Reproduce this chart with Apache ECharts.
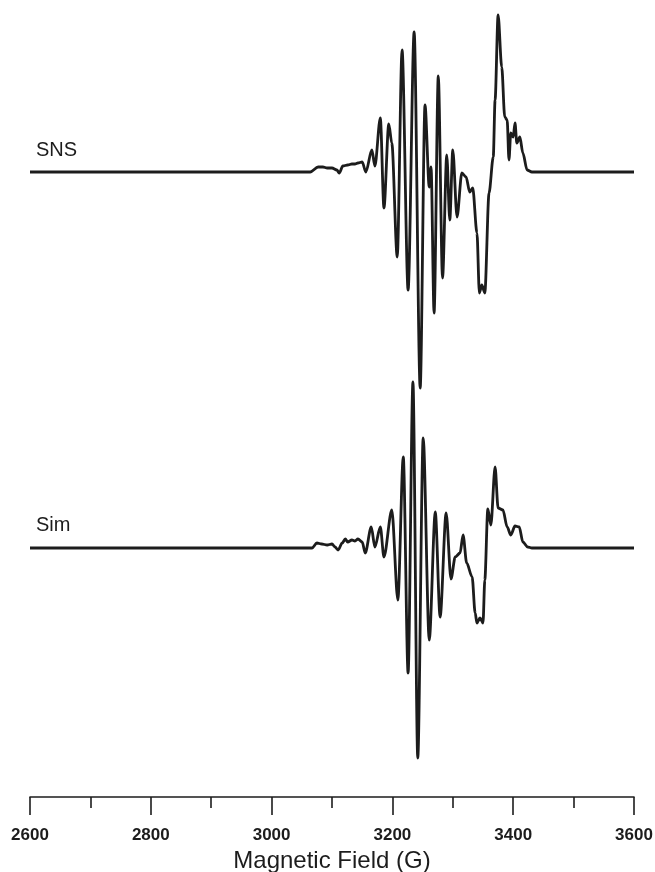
<!DOCTYPE html>
<html><head><meta charset="utf-8">
<script src="https://cdn.jsdelivr.net/npm/echarts@6/dist/echarts.min.js"></script>
<style>html,body{margin:0;padding:0;background:#fff}#c{width:655px;height:872px}</style>
</head><body><div id="c"></div>
<script>
// Magnetic field (G) and signal (arb. units)
const snsField = [2600, 3064, 3077, 3085, 3092, 3100, 3108, 3112, 3118, 3126, 3133, 3138, 3143, 3150, 3156, 3166, 3171, 3180, 3186, 3194, 3199, 3208, 3216, 3226, 3236, 3246, 3254, 3261, 3264, 3269, 3276, 3283, 3290, 3295, 3300, 3307, 3315, 3322, 3328, 3333, 3340, 3344, 3348, 3353, 3360, 3367, 3370, 3375, 3381, 3386, 3390, 3393, 3396, 3400, 3403, 3406, 3411, 3416, 3423, 3431, 3600];
const snsSignal = [0, 0, 5, 5, 4, 4, 2, -1, 6, 7, 8, 8, 9, 10, 0, 22, 6, 54, -36, 48, 29, -85, 122, -118, 140, -216, 67, -15, 5, -141, 96, -106, 17, -48, 22, -45, -1, -5, -20, -16, -61, -121, -113, -121, -21, 15, 72, 157, 105, 55, 52, 12, 39, 35, 49, 29, 35, 19, 2, 0, 0];

const simField = [2600, 3067, 3075, 3083, 3092, 3100, 3105, 3110, 3117, 3122, 3126, 3133, 3138, 3143, 3150, 3155, 3165, 3171, 3180, 3186, 3199, 3209, 3218, 3226, 3234, 3242, 3251, 3261, 3271, 3279, 3289, 3297, 3304, 3312, 3317, 3323, 3332, 3337, 3340, 3345, 3350, 3353, 3358, 3363, 3370, 3375, 3383, 3390, 3396, 3403, 3410, 3416, 3424, 3431, 3600];
const simSignal = [0, 0, 5, 4, 3, 4, 1, -2, 5, 9, 6, 8, 7, 9, 6, -5, 21, 1, 21, -9, 38, -52, 91, -125, 166, -210, 110, -92, 36, -69, 35, -31, -9, -5, 13, -15, -29, -65, -75, -70, -75, -32, 39, 23, 81, 40, 38, 21, 13, 22, 21, 6, 1, 0, 0];

const tickLabels = ['2600', '2800', '3000', '3200', '3400', '3600'];
const seriesNames = ['SNS', 'Sim'];
const axisTitle = 'Magnetic Field (G)';

const zip = (xs, ys) => xs.map((x, i) => [x, ys[i]]);
const chart = echarts.init(document.getElementById('c'), null, {renderer: 'canvas'});
const font = '"Liberation Sans", Arial, Helvetica, sans-serif';
const lineStyle = {color: '#1c1c1c', width: 2.8};

chart.setOption({
  animation: false,
  backgroundColor: '#ffffff',
  grid: {left: 30, right: 21, top: 0, bottom: 75, containLabel: false, outerBoundsMode: 'none'},
  xAxis: {
    type: 'value', min: 2600, max: 3600, interval: 200,
    axisLine: {show: true, onZero: false, lineStyle: {color: '#1c1c1c', width: 1.6}},
    axisTick: {show: true, length: 18, lineStyle: {color: '#1c1c1c', width: 1.6}},
    minorTick: {show: true, splitNumber: 2, length: 11, lineStyle: {color: '#1c1c1c', width: 1.6}},
    splitLine: {show: false},
    axisLabel: {
      margin: 30, fontSize: 17, fontWeight: 'bold', color: '#1c1c1c', fontFamily: font,
      formatter: v => tickLabels.includes(String(v)) ? String(v) : ''
    },
    name: axisTitle, nameLocation: 'middle', nameGap: 52,
    nameTextStyle: {fontSize: 24, color: '#1c1c1c', fontFamily: font}
  },
  yAxis: [
    {type: 'value', min: -625, max: 172, show: false},
    {type: 'value', min: -249, max: 548, show: false}
  ],
  graphic: [
    {type: 'text', left: 36, top: 140, style: {text: seriesNames[0], font: '20px ' + font, fill: '#1c1c1c'}},
    {type: 'text', left: 36, top: 515, style: {text: seriesNames[1], font: '20px ' + font, fill: '#1c1c1c'}}
  ],
  series: [
    {name: seriesNames[0], type: 'line', yAxisIndex: 0, data: zip(snsField, snsSignal), showSymbol: false, smooth: 0.3, smoothMonotone: 'x', lineStyle, clip: false},
    {name: seriesNames[1], type: 'line', yAxisIndex: 1, data: zip(simField, simSignal), showSymbol: false, smooth: 0.3, smoothMonotone: 'x', lineStyle, clip: false}
  ]
});
</script></body></html>
